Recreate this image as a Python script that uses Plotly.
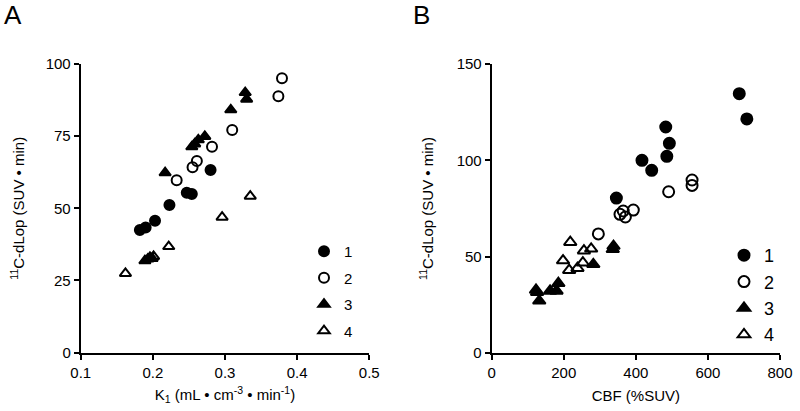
import plotly.graph_objects as go

# ---- Panel A data: K1 vs 11C-dLop ----
a1_x = [0.182, 0.190, 0.203, 0.223, 0.247, 0.254, 0.280]
a1_y = [42.5, 43.3, 45.7, 51.1, 55.4, 54.9, 63.3]
a2_x = [0.233, 0.255, 0.261, 0.282, 0.310, 0.374, 0.379]
a2_y = [59.7, 64.2, 66.4, 71.3, 77.1, 88.8, 95.1]
a3_x = [0.189, 0.193, 0.196, 0.199, 0.217, 0.254, 0.258, 0.263, 0.272, 0.308, 0.328, 0.330]
a3_y = [31.8, 32.4, 33.0, 32.6, 62.3, 71.3, 72.3, 73.7, 74.9, 84.1, 90.1, 87.8]
a4_x = [0.162, 0.201, 0.222, 0.296, 0.335]
a4_y = [27.4, 33.3, 36.7, 46.9, 54.2]

# ---- Panel B data: CBF vs 11C-dLop ----
b1_x = [346, 417, 444, 483, 486, 493, 687, 708]
b1_y = [80.4, 100.0, 94.8, 117.3, 102.1, 108.8, 134.6, 121.5]
b2_x = [296, 356, 365, 371, 393, 491, 556, 556]
b2_y = [61.8, 72.0, 73.7, 70.6, 74.2, 83.7, 89.8, 87.0]
b3_x = [123, 126, 132, 162, 180, 185, 282, 336, 338]
b3_y = [32.7, 31.5, 27.1, 32.2, 32.2, 36.2, 46.0, 53.8, 55.5]
b4_x = [198, 215, 218, 238, 253, 256, 276]
b4_y = [48.0, 43.0, 57.5, 44.0, 46.9, 53.1, 54.1]

group_names = ["1", "2", "3", "4"]
a_ticks_x = [0.1, 0.2, 0.3, 0.4, 0.5]
a_ticks_y = [0, 25, 50, 75, 100]
b_ticks_x = [0, 200, 400, 600, 800]
b_ticks_y = [0, 50, 100, 150]

symbols = ["circle", "circle-open", "triangle-up", "triangle-up-open"]

FONT = "Liberation Sans, Arial, sans-serif"
fig = go.Figure()

a_data = [(a1_x, a1_y), (a2_x, a2_y), (a3_x, a3_y), (a4_x, a4_y)]
b_data = [(b1_x, b1_y), (b2_x, b2_y), (b3_x, b3_y), (b4_x, b4_y)]

for i, (xs, ys) in enumerate(a_data):
    fig.add_trace(go.Scatter(
        x=xs, y=ys, mode="markers", name=group_names[i],
        legend="legend", legendgroup="a" + group_names[i],
        marker=dict(symbol=symbols[i], size=10, color="black",
                    line=dict(color="black", width=2)),
        xaxis="x", yaxis="y"))

for i, (xs, ys) in enumerate(b_data):
    fig.add_trace(go.Scatter(
        x=xs, y=ys, mode="markers", name=group_names[i],
        legend="legend2", legendgroup="b" + group_names[i],
        marker=dict(symbol=symbols[i], size=11, color="black",
                    line=dict(color="black", width=2)),
        xaxis="x2", yaxis="y2"))

axis_common = dict(showline=True, linecolor="black", linewidth=2,
                   ticks="outside", ticklen=5, tickwidth=2, tickcolor="black",
                   showgrid=False, zeroline=False, automargin=False,
                   tickfont=dict(family=FONT, size=15, color="black"))

fig.update_layout(
    width=800, height=411,
    margin=dict(l=0, r=0, t=0, b=0, autoexpand=False),
    paper_bgcolor="white", plot_bgcolor="white",
    font=dict(family=FONT, color="black"),
    xaxis=dict(domain=[0.1009, 0.4616], range=[0.1, 0.5], tickvals=a_ticks_x,
               ticktext=[str(v) for v in a_ticks_x], anchor="y",
               title=dict(text="K<sub>1</sub> (mL • cm<sup>-3</sup> • min<sup>-1</sup>)",
                          font=dict(family=FONT, size=15), standoff=10),
               **axis_common),
    yaxis=dict(domain=[0.1423, 0.8443], range=[0, 100], tickvals=a_ticks_y, anchor="x",
               title=dict(text="<sup>11</sup>C-dLop (SUV • min)",
                          font=dict(family=FONT, size=15), standoff=17),
               **axis_common),
    xaxis2=dict(domain=[0.6146, 0.975], range=[0, 800], tickvals=b_ticks_x, anchor="y2",
                title=dict(text="CBF (%SUV)", font=dict(family=FONT, size=15), standoff=10),
                **axis_common),
    yaxis2=dict(domain=[0.1411, 0.8443], range=[0, 150], tickvals=b_ticks_y, anchor="x2",
                title=dict(text="<sup>11</sup>C-dLop (SUV • min)",
                           font=dict(family=FONT, size=15), standoff=19),
                **axis_common),
    legend=dict(x=304 / 800, y=1 - 235 / 411, xanchor="left", yanchor="top",
                bgcolor="rgba(0,0,0,0)", font=dict(family=FONT, size=15),
                tracegroupgap=4, itemwidth=30),
    legend2=dict(x=724 / 800, y=1 - 237 / 411, xanchor="left", yanchor="top",
                 bgcolor="rgba(0,0,0,0)", font=dict(family=FONT, size=18),
                 tracegroupgap=0, itemwidth=30),
    annotations=[
        dict(text="A", x=2 / 800, y=1 + 2 / 411, xref="paper", yref="paper",
             xanchor="left", yanchor="top", showarrow=False,
             font=dict(family=FONT, size=26, color="black")),
        dict(text="B", x=411 / 800, y=1 + 2 / 411, xref="paper", yref="paper",
             xanchor="left", yanchor="top", showarrow=False,
             font=dict(family=FONT, size=26, color="black")),
    ],
)

fig.write_html("out.html", config={"displayModeBar": False},
               post_script="document.body.style.margin='0';")
